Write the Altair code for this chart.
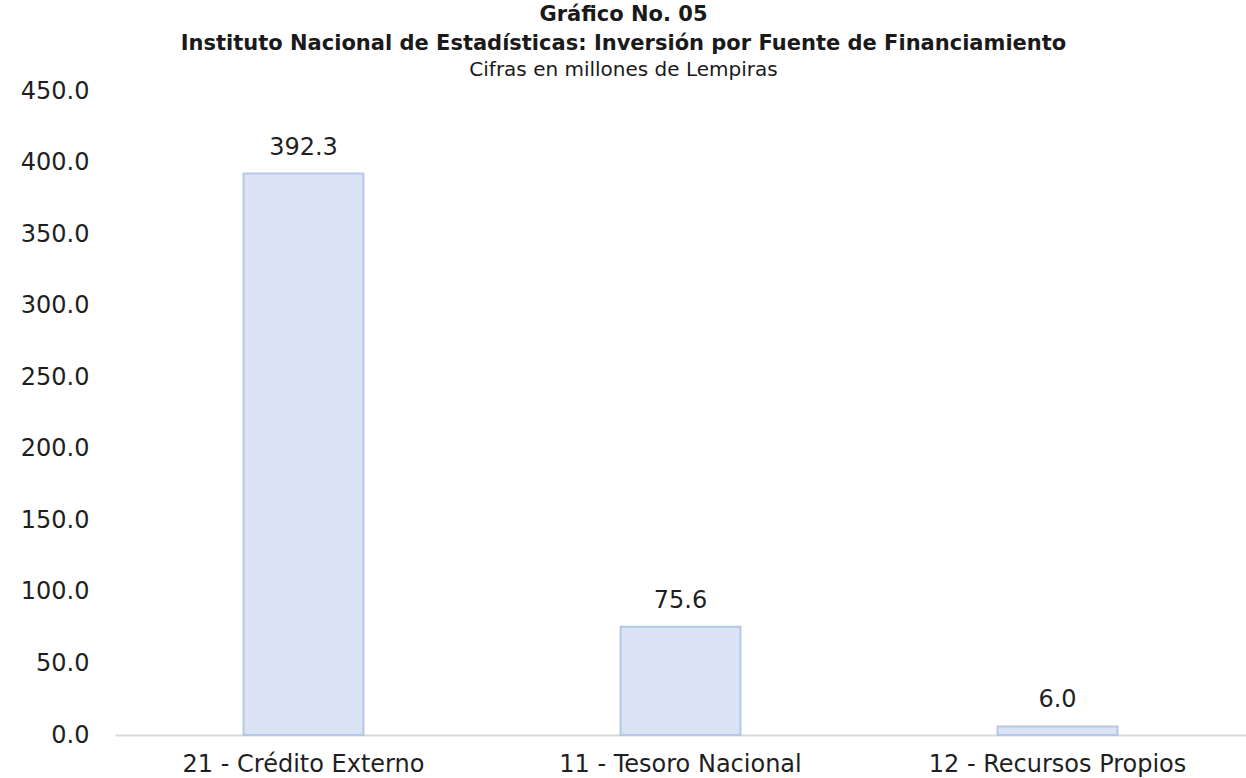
import altair as alt
import pandas as pd

categories = ["21 - Crédito Externo", "11 - Tesoro Nacional", "12 - Recursos Propios"]
values = [392.3, 75.6, 6.0]
y_ticks = [0, 50, 100, 150, 200, 250, 300, 350, 400, 450]

df = pd.DataFrame({"fuente": categories, "monto": values})

FONT = "DejaVu Sans"
TEXT = "#1f1f1f"

base = alt.Chart(df).encode(
    x=alt.X(
        "fuente:N",
        sort=categories,
        title=None,
        scale=alt.Scale(paddingInner=0.682, paddingOuter=0.341),
        axis=alt.Axis(
            labelAngle=0,
            ticks=False,
            domain=True,
            domainColor="#d9d9d9",
            domainWidth=2,
            labelFontSize=24,
            labelFont=FONT,
            labelColor=TEXT,
            labelPadding=17,
            labelLimit=400,
            grid=False,
        ),
    ),
    y=alt.Y(
        "monto:Q",
        title=None,
        scale=alt.Scale(domain=[0, 450], nice=False),
        axis=alt.Axis(
            values=y_ticks,
            format=".1f",
            domain=False,
            ticks=False,
            grid=False,
            labelFontSize=24,
            labelFont=FONT,
            labelColor=TEXT,
            labelPadding=26,
        ),
    ),
)

bars = base.mark_bar(color="#DAE3F3", stroke="#B4C7E7", strokeWidth=2)
labels = base.mark_text(
    baseline="alphabetic", dy=-19, fontSize=24, font=FONT, color=TEXT
).encode(text=alt.Text("monto:Q", format=".1f"))

chart = (
    (bars + labels)
    .properties(
        width=1131,
        height=644,
        padding={"left": 115, "top": 91, "right": 0, "bottom": 43},
        autosize=alt.AutoSizeParams(type="none"),
        view=alt.ViewBackground(stroke="transparent", strokeWidth=0),
        title=alt.TitleParams(
            text=["Gráfico No. 05", "Instituto Nacional de Estadísticas: Inversión por Fuente de Financiamiento"],
            subtitle="Cifras en millones de Lempiras",
            anchor="middle",
            frame="group",
            dx=-57,
            offset=-1,
            font=FONT,
            fontSize=21,
            fontWeight="bold",
            color="#1a1a1a",
            lineHeight=29,
            subtitleFont=FONT,
            subtitleFontSize=20,
            subtitleColor="#1a1a1a",
            subtitlePadding=6,
        ),
    )
    .configure_view(stroke="transparent", strokeWidth=0)
    .configure(background="white")
)

chart.save("out.html", embed_options={"renderer": "svg", "actions": False})
